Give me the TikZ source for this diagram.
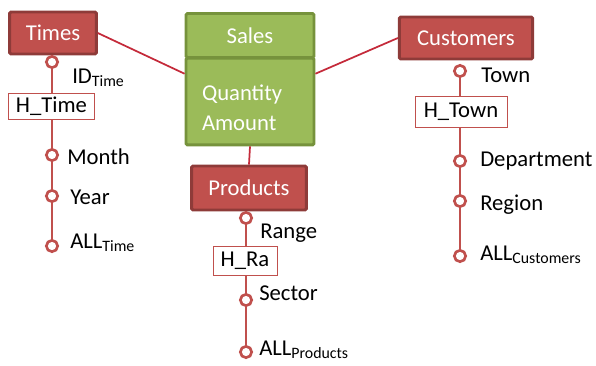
\documentclass[tikz,border=0pt]{standalone}
\usepackage{fontspec}
\setmainfont{Carlito}
\usetikzlibrary{positioning}
\definecolor{dimred}{HTML}{C0504D}
\definecolor{dimedge}{HTML}{8E3B39}
\definecolor{factgreen}{HTML}{9BBB59}
\definecolor{factedge}{HTML}{76923C}
\definecolor{linkred}{HTML}{C42A3A}

\tikzset{
  dim/.style={draw=dimedge, fill=dimred, line width=2.2pt, text=white,
              rounded corners=1pt, inner sep=0pt, font=\fontsize{17}{19}\selectfont},
  fact/.style={draw=factedge, fill=factgreen, line width=2.2pt, text=white,
              rounded corners=1pt, inner sep=0pt, minimum width=96pt,
              font=\fontsize{17}{19}\selectfont},
  lvl/.style={circle, draw=dimred, fill=white, line width=2pt,
              minimum size=8.5pt, inner sep=0pt},
  lbl/.style={anchor=west, inner sep=0pt, font=\fontsize{17}{19}\selectfont},
  hbox/.style={draw=dimred, fill=white, line width=0.6pt, inner sep=0pt,
              font=\fontsize{17}{19}\selectfont},
  hline/.style={draw=dimred, line width=1.8pt},
  link/.style={draw=linkred, line width=1.3pt},
}

\begin{document}
\begin{tikzpicture}[x=0.75pt, y=-0.75pt]
\useasboundingbox (0,0) rectangle (596,365);

% fact
\node[fact, minimum height=33pt] (sales) at (250,35.5) {Sales};
\node[fact, minimum height=65pt, text width=72pt, align=left] (qty) at (250,101.5)
  {\raisebox{0pt}[21pt][0pt]{Quantity}\\[4pt]Amount};

% dimensions
\node[dim, minimum width=65pt, minimum height=31.5pt] (times) at (53,33) {Times};
\node[dim, minimum width=100pt, minimum height=31.5pt] (cust) at (466,38) {Customers};
\node[dim, minimum width=86pt, minimum height=33pt] (prod) at (249,188) {Products};

\draw[link] (times.east) -- (qty.157);
\draw[link] (qty.23) -- (cust.west);
\draw[link] (qty.south) -- (prod.north);

% Times hierarchy
\path[hline] (52,62) -- (52,246);
\node[lvl] (t1) at (52,62) {};
\node[lvl] (t2) at (52,155) {};
\node[lvl] (t3) at (52,196) {};
\node[lvl] (t4) at (52,246) {};
\node[hbox, minimum width=65pt, minimum height=20pt] (ht) at (51.5,106.5) {H\_Time};
\node[lbl] (idt) at (72,78) {ID\textsubscript{Time}};
\node[lbl] (mon) at (67,157) {Month};
\node[lbl] (yr) at (70,197) {Year};
\node[lbl] (allt) at (70,243) {ALL\textsubscript{Time}};

% Customers hierarchy
\path[hline] (460,71) -- (460,256);
\node[lvl] (c1) at (460,71) {};
\node[lvl] (c2) at (460,161) {};
\node[lvl] (c3) at (460,201) {};
\node[lvl] (c4) at (460,256) {};
\node[hbox, minimum width=69pt, minimum height=23pt] (hc) at (461,112) {H\_Town};
\node[lbl] (town) at (481,75) {Town};
\node[lbl] (dep) at (480,161) {Department};
\node[lbl] (reg) at (480,205) {Region};
\node[lbl] (allc) at (480,255) {ALL\textsubscript{Customers}};

% Products hierarchy
\path[hline] (246,218) -- (246,352);
\node[lvl] (p1) at (246,218) {};
\node[lvl] (p2) at (246,300) {};
\node[lvl] (p3) at (246,352) {};
\node[hbox, minimum width=48pt, minimum height=22pt] (hp) at (245,261) {H\_Ra};
\node[lbl] (rng) at (260,233) {Range};
\node[lbl] (sec) at (259,293) {Sector};
\node[lbl] (allp) at (259,350) {ALL\textsubscript{Products}};
\end{tikzpicture}
\end{document}
